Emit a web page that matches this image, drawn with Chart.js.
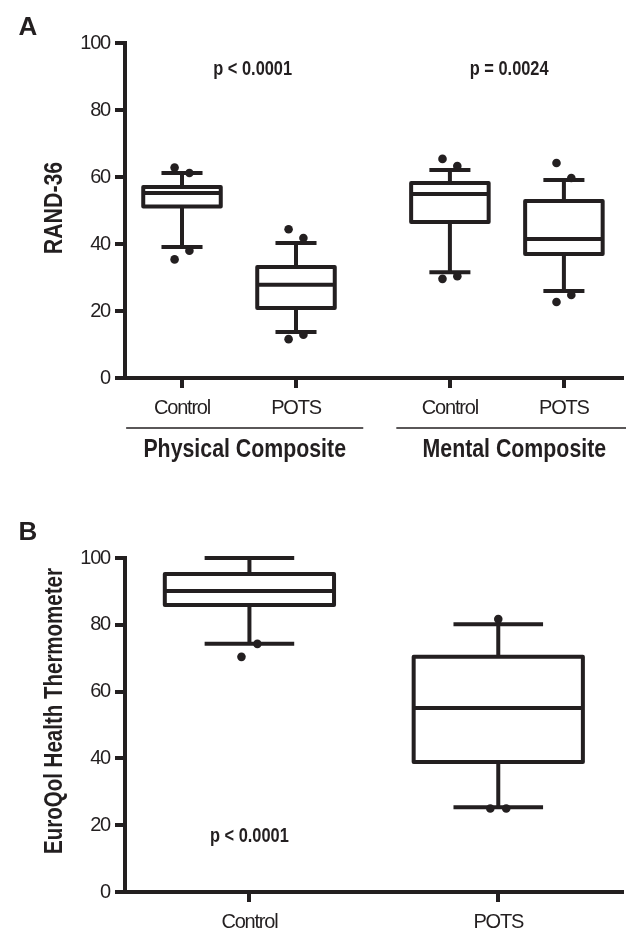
<!DOCTYPE html>
<html>
<head>
<meta charset="utf-8">
<script src="https://cdn.jsdelivr.net/npm/chart.js@4.4.1/dist/chart.umd.min.js"></script>
<style>
  html, body { margin: 0; padding: 0; background: #fff; }
  body { width: 626px; height: 928px; position: relative; overflow: hidden; }
  canvas { position: absolute; left: 0; }
  #chartA { top: 0; }
  #chartB { top: 490px; }
</style>
</head>
<body>
<canvas id="chartA" width="626" height="470"></canvas>
<canvas id="chartB" width="626" height="438"></canvas>
<script>
// ── PANEL A: RAND-36 ─────────────────────────────────────────
const groupsA  = ['Physical Composite', 'Mental Composite'];
const catsA    = ['Control', 'POTS', 'Control', 'POTS'];
const groupOfA = [0, 0, 1, 1];
const loA  = [39.1, 13.7, 31.6, 26.0];
const q1A  = [51.2, 20.9, 46.6, 37.0];
const medA = [55.2, 27.8, 54.9, 41.5];
const q3A  = [57.0, 33.1, 58.2, 52.8];
const hiA  = [61.2, 40.3, 62.1, 59.1];
const outA = [
  [62.8, 61.2, 35.4, 38.0],
  [44.4, 41.8, 11.6, 12.9],
  [65.4, 63.3, 29.6, 30.4],
  [64.2, 59.7, 22.7, 24.8]
];
const outSideA = [
  [-1, 1, -1, 1],
  [-1, 1, -1, 1],
  [-1, 1, -1, 1],
  [-1, 1, -1, 1]
];
const pTextA = ['p < 0.0001', 'p = 0.0024'];
const yTicksA = [0, 20, 40, 60, 80, 100];

// ── PANEL B: EuroQol ─────────────────────────────────────────
const catsB = ['Control', 'POTS'];
const loB  = [74.3, 25.4];
const q1B  = [85.9, 38.9];
const medB = [90.1, 55.1];
const q3B  = [95.2, 70.4];
const hiB  = [100, 80.2];
const outB = [
  [74.3, 70.4],
  [81.7, 25.0, 25.0]
];
const outSideB = [
  [1, -1],
  [0, -1, 1]
];
const pTextB = ['p < 0.0001'];
const yTicksB = [0, 20, 40, 60, 80, 100];

// ── STYLE ────────────────────────────────────────────────────
const INK    = '#231f20';
const SANS   = "'Liberation Sans', Arial, Helvetica, sans-serif";
const SQUEEZE = 0.82;  // fake "narrow" face: no condensed font is installed
const BOX_W  = 0.68;   // box width, in category units
const CAP_W  = 0.36;   // whisker cap width
const GROUP_GAP = 0.35;

Chart.defaults.font.family = SANS;
Chart.defaults.color = INK;

function boxPath(x, lo, q1, med, q3, hi) {
  const h = BOX_W / 2, c = CAP_W / 2;
  const gap = { x: x, y: null };
  return [
    { x, y: q3 }, { x: x + h, y: q3 }, { x: x + h, y: q1 }, { x: x - h, y: q1 }, { x: x - h, y: q3 }, { x, y: q3 },
    { x, y: hi }, gap,
    { x: x - c, y: hi }, { x: x + c, y: hi }, gap,
    { x: x - h, y: med }, { x: x + h, y: med }, gap,
    { x, y: q1 }, { x, y: lo }, gap,
    { x: x - c, y: lo }, { x: x + c, y: lo }
  ];
}

function boxDatasets(pos, lo, q1, med, q3, hi, out, side, jitter) {
  const sets = pos.map((x, i) => ({
    type: 'line',
    data: boxPath(x, lo[i], q1[i], med[i], q3[i], hi[i]),
    borderColor: INK,
    borderWidth: 4,
    borderJoinStyle: 'round',
    borderCapStyle: 'butt',
    pointRadius: 0,
    spanGaps: false,
    clip: false,
    order: 2
  }));
  const dots = [];
  pos.forEach((x, i) => out[i].forEach((v, k) => dots.push({ x: x + side[i][k] * jitter, y: v })));
  sets.push({
    type: 'scatter',
    data: dots,
    pointRadius: 4.3,
    backgroundColor: INK,
    borderWidth: 0,
    clip: false,
    order: 1
  });
  return sets;
}

function axisOpts(yTicks, xMin, xMax, pos, labels, xHeight) {
  return {
    x: {
      type: 'linear', min: xMin, max: xMax,
      afterBuildTicks: s => { s.ticks = pos.map(v => ({ value: v })); },
      afterFit: s => { s.height = xHeight; },
      ticks: {
        autoSkip: false, maxRotation: 0, padding: 8,
        font: { size: 20 }, color: INK,
        callback: (v, i) => labels[i]
      },
      grid: { drawOnChartArea: false, drawTicks: true, tickLength: 10, lineWidth: 4, color: INK },
      border: { display: true, width: 4, color: INK }
    },
    y: {
      min: 0, max: 100,
      afterBuildTicks: s => { s.ticks = yTicks.map(v => ({ value: v })); },
      afterFit: s => { s.width = 125; },
      ticks: { padding: 5, font: { size: 20 }, color: INK },
      grid: { drawOnChartArea: false, drawTicks: true, tickLength: 10, lineWidth: 4, color: INK },
      border: { display: true, width: 4, color: INK }
    }
  };
}

// condensed text: squeeze along the reading direction
function drawText(ctx, txt, x, y, font, rotate) {
  ctx.save();
  ctx.letterSpacing = '0px';
  ctx.translate(x, y);
  if (rotate) ctx.rotate(-Math.PI / 2);
  ctx.scale(SQUEEZE, 1);
  ctx.font = font;
  ctx.fillStyle = INK;
  ctx.textAlign = 'center';
  ctx.textBaseline = 'middle';
  ctx.fillText(txt, 0, 0);
  ctx.restore();
}

const tightTicks = {
  id: 'tightTicks',
  beforeDraw(chart) { chart.ctx.letterSpacing = '-1.2px'; },
  afterDraw(chart) { chart.ctx.letterSpacing = '0px'; }
};

// ── CHART A ──────────────────────────────────────────────────
const posA = catsA.map((_, i) => i + 1 + groupOfA[i] * GROUP_GAP);
const pAtA = [{ x: 1.62, y: 92 }, { x: 3.87, y: 92 }];
const spanA = [[0.51, 2.59], [2.88, 4.95]];

const notesA = {
  id: 'notesA',
  afterDraw(chart) {
    const { ctx, scales: { x, y }, chartArea } = chart;
    ctx.letterSpacing = '0px';
    ctx.save();
    ctx.font = `bold 26px ${SANS}`;
    ctx.fillStyle = INK;
    ctx.textAlign = 'center';
    ctx.textBaseline = 'middle';
    ctx.fillText('A', 28, 28);
    ctx.restore();
    drawText(ctx, 'RAND-36', 55, 208, `bold 26px ${SANS}`, true);
    pTextA.forEach((t, i) =>
      drawText(ctx, t, x.getPixelForValue(pAtA[i].x), y.getPixelForValue(pAtA[i].y), `bold 20px ${SANS}`));
    const lineY = chartArea.bottom + 50;
    groupsA.forEach((g, i) => {
      const x0 = x.getPixelForValue(spanA[i][0]), x1 = x.getPixelForValue(spanA[i][1]);
      ctx.save();
      ctx.strokeStyle = INK;
      ctx.lineWidth = 1.5;
      ctx.beginPath();
      ctx.moveTo(x0, lineY);
      ctx.lineTo(x1, lineY);
      ctx.stroke();
      ctx.restore();
      drawText(ctx, g, (x0 + x1) / 2, lineY + 22, `bold 26px ${SANS}`);
    });
  }
};

new Chart(document.getElementById('chartA'), {
  type: 'line',
  data: { datasets: boxDatasets(posA, loA, q1A, medA, q3A, hiA, outA, outSideA, 0.065) },
  options: {
    responsive: false,
    animation: false,
    devicePixelRatio: 1,
    layout: { padding: { top: 43, right: 0, bottom: 0, left: 0 } },
    plugins: { legend: { display: false }, tooltip: { enabled: false } },
    scales: axisOpts(yTicksA, 0.5, 4.857, posA, catsA, 92)
  },
  plugins: [tightTicks, notesA]
});

// ── CHART B ──────────────────────────────────────────────────
const posB = catsB.map((_, i) => i + 1);
const pAtB = [{ x: 1.0, y: 16.5 }];

const notesB = {
  id: 'notesB',
  afterDraw(chart) {
    const { ctx, scales: { x, y } } = chart;
    ctx.letterSpacing = '0px';
    ctx.save();
    ctx.font = `bold 26px ${SANS}`;
    ctx.fillStyle = INK;
    ctx.textAlign = 'center';
    ctx.textBaseline = 'middle';
    ctx.fillText('B', 28, 43);
    ctx.restore();
    drawText(ctx, 'EuroQol Health Thermometer', 55, 221, `bold 25px ${SANS}`, true);
    pTextB.forEach((t, i) =>
      drawText(ctx, t, x.getPixelForValue(pAtB[i].x), y.getPixelForValue(pAtB[i].y), `bold 20px ${SANS}`));
  }
};

new Chart(document.getElementById('chartB'), {
  type: 'line',
  data: { datasets: boxDatasets(posB, loB, q1B, medB, q3B, hiB, outB, outSideB, 0.032) },
  options: {
    responsive: false,
    animation: false,
    devicePixelRatio: 1,
    layout: { padding: { top: 68, right: 0, bottom: 0, left: 0 } },
    plugins: { legend: { display: false }, tooltip: { enabled: false } },
    scales: axisOpts(yTicksB, 0.5, 2.496, posB, catsB, 36)
  },
  plugins: [tightTicks, notesB]
});
</script>
</body>
</html>
